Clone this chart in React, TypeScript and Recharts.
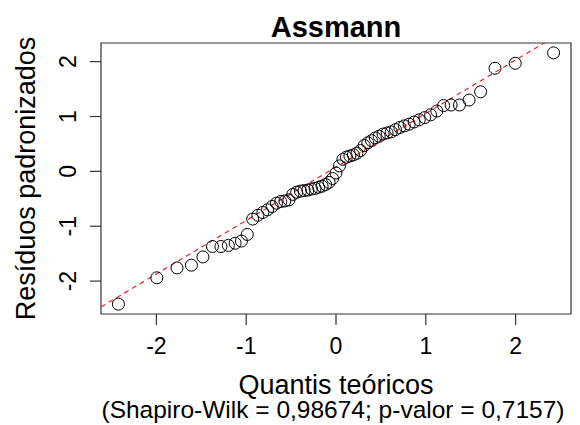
import React from 'react';
import { ScatterChart, Scatter, XAxis, YAxis, ReferenceArea, ReferenceLine } from 'recharts';

// normal theoretical quantiles (65 points) and the sorted standardized residuals
const theoretical = [
  -2.423, -1.9957, -1.7707, -1.6102, -1.4819, -1.3754, -1.2816, -1.1988, -1.1229, -1.0533,
  -0.9883, -0.9273, -0.8695, -0.8145, -0.7619, -0.7113, -0.6625, -0.6151, -0.5692, -0.5244,
  -0.4807, -0.4378, -0.3958, -0.3541, -0.3134, -0.2732, -0.2334, -0.194, -0.1548, -0.1159,
  -0.0772, -0.0386, 0, 0.0386, 0.0772, 0.1159, 0.1548, 0.194, 0.2334, 0.2732,
  0.3134, 0.3541, 0.3958, 0.4378, 0.4807, 0.5244, 0.5692, 0.6151, 0.6625, 0.7113,
  0.7619, 0.8145, 0.8695, 0.9273, 0.9883, 1.0533, 1.1229, 1.1988, 1.2816, 1.3754,
  1.4819, 1.6102, 1.7707, 1.9957, 2.423,
];
const residuals = [
  -2.42, -1.94, -1.76, -1.71, -1.56, -1.37, -1.37, -1.35, -1.31, -1.27,
  -1.15, -0.87, -0.8, -0.75, -0.7, -0.64, -0.58, -0.55, -0.54, -0.52,
  -0.42, -0.38, -0.36, -0.35, -0.34, -0.32, -0.31, -0.29, -0.27, -0.24,
  -0.2, -0.13, -0.03, 0.1, 0.22, 0.26, 0.28, 0.3, 0.33, 0.38,
  0.47, 0.52, 0.56, 0.61, 0.64, 0.68, 0.7, 0.72, 0.76, 0.8,
  0.83, 0.86, 0.9, 0.94, 0.98, 1.03, 1.1, 1.2, 1.21, 1.21,
  1.3, 1.45, 1.88, 1.97, 2.16,
];
const xTicks = [-2, -1, 0, 1, 2];
const yTicks = [-2, -1, 0, 1, 2];
const xDomain = [-2.617, 2.617];
const yDomain = [-2.6, 2.34];
// qqline
const lineIntercept = 0.08;
const lineSlope = 0.975;

const points = theoretical.map((x, i) => ({ x, y: residuals[i] }));
const FONT = '"Liberation Sans", Arial, Helvetica, sans-serif';

const Ring = (props: any) => (
  <circle cx={props.cx} cy={props.cy} r={6} fill="none" stroke="#000" strokeWidth={1} />
);

const YTick = (props: any) => {
  const { x, y, payload } = props;
  return (
    <text
      transform={`translate(${x - 12},${y}) rotate(-90)`}
      textAnchor="middle"
      fontSize={23}
      fontFamily={FONT}
      fill="#000"
    >
      {payload.value}
    </text>
  );
};

export default function App() {
  return (
    <div style={{ position: 'absolute', left: 0, top: 0, width: 580, height: 425, background: '#fff' }}>
      <ScatterChart width={580} height={425} margin={{ top: 43, right: 9, bottom: 71, left: 0 }}>
        <XAxis
          type="number"
          dataKey="x"
          domain={xDomain}
          ticks={xTicks}
          allowDataOverflow
          height={40}
          axisLine={false}
          tickSize={11}
          tickMargin={13}
          tickLine={{ stroke: '#333', strokeWidth: 1.2 }}
          tick={{ fontSize: 23, fill: '#000', fontFamily: FONT }}
        />
        <YAxis
          type="number"
          dataKey="y"
          domain={yDomain}
          ticks={yTicks}
          allowDataOverflow
          width={101}
          axisLine={false}
          tickSize={11}
          tickLine={{ stroke: '#333', strokeWidth: 1.2 }}
          tick={<YTick />}
        />
        <ReferenceArea
          x1={xDomain[0]}
          x2={xDomain[1]}
          y1={yDomain[0]}
          y2={yDomain[1]}
          fill="none"
          stroke="#333"
          strokeWidth={1.2}
          ifOverflow="visible"
        />
        <Scatter data={points} shape={<Ring />} isAnimationActive={false} />
        <ReferenceLine
          segment={[
            { x: xDomain[0], y: lineIntercept + lineSlope * xDomain[0] },
            { x: xDomain[1], y: lineIntercept + lineSlope * xDomain[1] },
          ]}
          stroke="#e8262b"
          strokeWidth={1.2}
          strokeDasharray="5 4"
          ifOverflow="hidden"
        />
      </ScatterChart>
      <svg
        width={580}
        height={425}
        style={{ position: 'absolute', left: 0, top: 0, pointerEvents: 'none' }}
        fontFamily={FONT}
      >
        <text x={336} y={37} textAnchor="middle" fontSize={29} fontWeight="bold">
          Assmann
        </text>
        <text x={336} y={394} textAnchor="middle" fontSize={27}>
          Quantis teóricos
        </text>
        <text x={333} y={418} textAnchor="middle" fontSize={24.5}>
          (Shapiro-Wilk = 0,98674; p-valor = 0,7157)
        </text>
        <text transform="translate(35,178.5) rotate(-90)" textAnchor="middle" fontSize={27}>
          Resíduos padronizados
        </text>
      </svg>
    </div>
  );
}
